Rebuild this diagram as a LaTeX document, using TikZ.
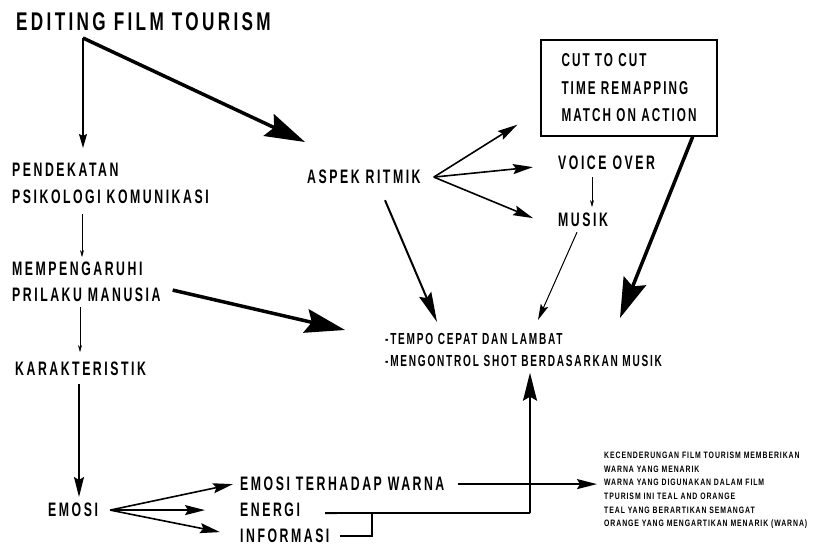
\documentclass[tikz,border=0pt]{standalone}
\usepackage{fontspec}
\setmainfont{Liberation Sans}[FakeStretch=0.63,LetterSpace=13]
\newfontfamily\titlefont{Liberation Sans}[FakeStretch=0.67,LetterSpace=13]
\newfontfamily\midfont{Liberation Sans}[FakeStretch=0.63,LetterSpace=11]
\newfontfamily\smallfont{Liberation Sans}[FakeStretch=0.74,LetterSpace=10]
\usetikzlibrary{arrows.meta}
\tikzset{
  lbl/.style={anchor=north west, inner sep=0pt, align=left, font=\bfseries\fontsize{19.5}{27}\selectfont},
  thinarr/.style={line width=0.6pt, -{Stealth[length=7pt,width=4pt]}},
  medarr/.style={line width=1.6pt, -{Stealth[length=20pt,width=10pt,inset=3pt]}},
  muarr/.style={line width=1pt, -{Stealth[length=16pt,width=8pt,inset=3pt]}},
  bigarr/.style={line width=3.5pt, -{Stealth[length=40pt,width=24pt,inset=6pt]}},
  medline/.style={line width=1.8pt},
}
\begin{document}
\begin{tikzpicture}[x=1pt,y=-1pt]
\useasboundingbox (0,0) rectangle (814,548);
% nodes
\node[lbl, font=\titlefont\bfseries\fontsize{25.6}{30}\selectfont] (title) at (16,12) {EDITING FILM TOURISM};
\node[lbl] (pend) at (12,163) {PENDEKATAN\\PSIKOLOGI KOMUNIKASI};
\node[lbl, font=\bfseries\fontsize{19.5}{26}\selectfont] (memp) at (12,262) {MEMPENGARUHI\\PRILAKU MANUSIA};
\node[lbl] (kar) at (15,362) {KARAKTERISTIK};
\node[lbl] (emosi) at (48,503) {EMOSI};
\node[lbl] (ew) at (240,477) {EMOSI TERHADAP WARNA};
\node[lbl] (energi) at (240,503) {ENERGI};
\node[lbl] (info) at (240,529) {INFORMASI};
\node[lbl] (aspek) at (307,170) {ASPEK RITMIK};
\node[lbl] (voice) at (558,156) {VOICE OVER};
\node[lbl] (musik) at (558,213) {MUSIK};
\node[draw, line width=1.4pt, inner sep=0pt, minimum width=176pt, minimum height=96pt, align=left,
      font=\midfont\bfseries\fontsize{18.6}{27.5}\selectfont] (box) at (629,88) {CUT TO CUT\\TIME REMAPPING\\MATCH ON ACTION};
\node[lbl, font=\midfont\bfseries\fontsize{16}{22}\selectfont] (tempo) at (385,333) {-TEMPO CEPAT DAN LAMBAT\\-MENGONTROL SHOT BERDASARKAN MUSIK};
\node[lbl, font=\smallfont\bfseries\fontsize{9.3}{13.6}\selectfont] (rb) at (604,452) {KECENDERUNGAN FILM TOURISM MEMBERIKAN\\WARNA YANG MENARIK\\WARNA YANG DIGUNAKAN DALAM FILM\\TPURISM INI TEAL AND ORANGE\\TEAL YANG BERARTIKAN SEMANGAT\\ORANGE YANG MENGARTIKAN MENARIK (WARNA)};
% coordinates
\coordinate (c0) at (83,38);
\coordinate (j) at (530,513);
\coordinate (k) at (372,513);
% connectors
\draw[medarr, line width=1.4pt, -{Stealth[length=14pt,width=8pt,inset=2pt]}] (c0) -- ([xshift=71pt,yshift=15pt]pend.north west);
\draw[bigarr] (c0) -- ([xshift=-2pt,yshift=28pt]aspek.north west);
\draw[thinarr] ([xshift=70pt,yshift=-10pt]pend.south west) -- ([xshift=70pt,yshift=5pt]memp.north west);
\draw[thinarr] ([xshift=68pt,yshift=-5pt]memp.south west) -- ([xshift=65pt,yshift=10pt]kar.north west);
\draw[medarr] ([xshift=64pt,yshift=-8pt]kar.south west) -- ([xshift=31pt,yshift=6pt]emosi.north west);
\draw[medarr] ([xshift=12pt]emosi.east) -- ([xshift=-7pt]ew.west);
\draw[medarr] ([xshift=12pt]emosi.east) -- ([xshift=-35pt]energi.west);
\draw[medarr] ([xshift=12pt]emosi.east) -- ([xshift=-20pt,yshift=4pt]info.west);
\draw[medarr] ([xshift=13pt]ew.east) -- ([xshift=-7pt]rb.west |- ew.east);
\draw[medline] ([xshift=25pt,yshift=-3pt]energi.east) -- (j);
\draw[medline] ([xshift=10pt]info.east) -| (k);
\draw[medarr, -{Stealth[length=28pt,width=14pt,inset=4pt]}] (j) -- ([yshift=-6pt]j |- tempo.south);
\draw[medarr] ([xshift=13pt]aspek.east) -- ([xshift=-23pt,yshift=12pt]box.south west);
\draw[medarr] ([xshift=13pt]aspek.east) -- ([xshift=-25pt,yshift=-4pt]voice.west);
\draw[medarr] ([xshift=13pt]aspek.east) -- ([xshift=-25pt,yshift=2pt]musik.west);
\draw[thinarr] ([xshift=34pt,yshift=-7pt]voice.south west) -- ([xshift=34pt,yshift=6pt]musik.north west);
\draw[medarr, line width=2pt, -{Stealth[length=30pt,width=13pt,inset=4pt]}] ([xshift=78pt,yshift=-16pt]aspek.south west) -- ([xshift=52pt,yshift=11pt]tempo.north west);
\draw[muarr] ([xshift=19pt,yshift=-5pt]musik.south west) -- ([xshift=153pt,yshift=13pt]tempo.north west);
\draw[bigarr] ([xshift=-25pt]box.south east) -- ([xshift=235pt,yshift=15pt]tempo.north west);
\draw[bigarr] ([xshift=12pt,yshift=-8pt]memp.east) -- ([xshift=-40pt,yshift=3pt]tempo.north west);
\end{tikzpicture}
\end{document}
